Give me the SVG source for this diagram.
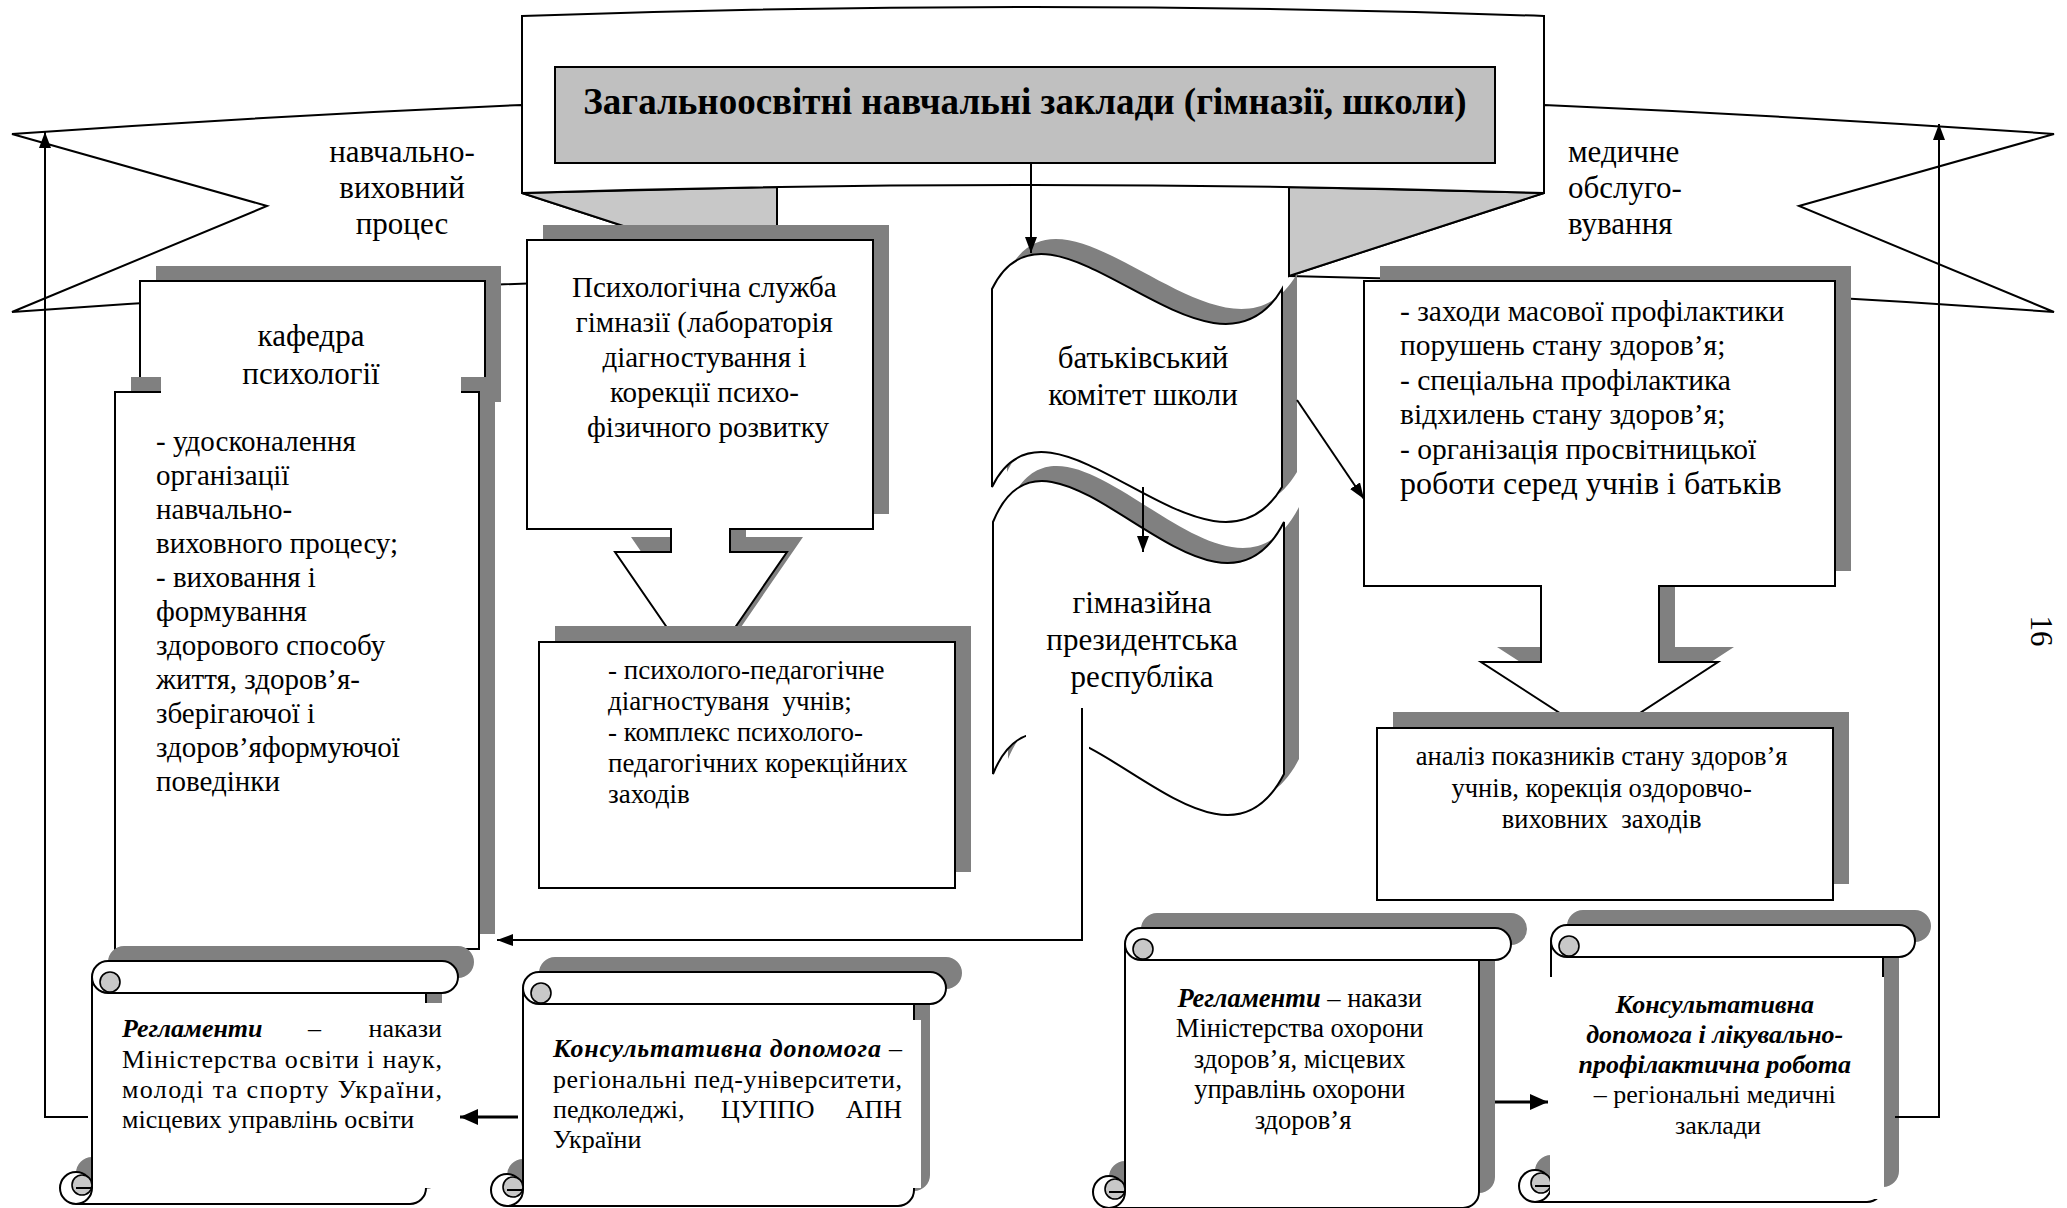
<svg xmlns="http://www.w3.org/2000/svg" width="2067" height="1208" viewBox="0 0 2067 1208">
<style>
.bg{fill:#fff}
.sh{fill:#808080;stroke:none}
.w{fill:#fff;stroke:#000;stroke-width:2}
.ln{fill:none;stroke:#000;stroke-width:2}
.lg{fill:#c8c8c8;stroke:#000;stroke-width:2}
.cv{fill:#c8c8c8;stroke:#000;stroke-width:1.6}
.t{font-family:'Liberation Serif','Times New Roman',serif;fill:#000}
.c{text-anchor:middle}
.e{text-anchor:end}
.bi{font-weight:bold;font-style:italic}
.ov{fill:#fff;stroke:none}
.cn{fill:none;stroke:#000;stroke-width:2}
.cb{fill:none;stroke:#000;stroke-width:3}
</style>
<defs>
<marker id="ah" markerWidth="16" markerHeight="12" refX="16" refY="6" orient="auto" markerUnits="userSpaceOnUse"><path d="M0,0 L16,6 L0,12 z" fill="#000"/></marker>
<marker id="ahb" markerWidth="18" markerHeight="16" refX="18" refY="8" orient="auto" markerUnits="userSpaceOnUse"><path d="M0,0 L18,8 L0,16 z" fill="#000"/></marker>
</defs>
<rect class="bg" x="0" y="0" width="2067" height="1208"/>

<g id="banner">
<path class="w" d="M522,105 Q270,116 12,134 L267,206 L12,312 Q400,284 777,276 L522,193 Z"/>
<path class="lg" d="M522,193 L777,276 L777,187 Z"/>
<path class="w" d="M1544,105 Q1796,116 2054,134 L1799,206 L2054,312 Q1666,284 1289,276 L1544,193 Z"/>
<path class="lg" d="M1544,193 L1289,276 L1289,187 Z"/>
<path class="w" d="M522,16 Q1033,-2 1544,16 L1544,193 Q1033,177 522,193 Z"/>
<rect x="555" y="67" width="940" height="96" fill="#c0c0c0" stroke="#000" stroke-width="2"/>
<text class="t c" x="1025" y="114" font-size="37" font-weight="bold">Загальноосвітні навчальні заклади (гімназії, школи)</text>
<text class="t c" font-size="31"><tspan x="402" y="162">навчально-</tspan><tspan x="402" y="198">виховний</tspan><tspan x="402" y="234">процес</tspan></text>
<text class="t" font-size="31"><tspan x="1568" y="162">медичне</tspan><tspan x="1568" y="198">обслуго-</tspan><tspan x="1568" y="234">вування</tspan></text>
</g>

<g id="kafedra">
<rect class="sh" x="156" y="266" width="345" height="136"/>
<rect class="w" x="140" y="281" width="345" height="136"/>
<rect class="sh" x="131" y="377" width="364" height="557"/>
<rect class="w" x="115" y="392" width="364" height="557"/>
<rect class="ov" x="161" y="296" width="300" height="104"/>
<text class="t c" font-size="31"><tspan x="311" y="346">кафедра</tspan><tspan x="311" y="384">психології</tspan></text>
<text class="t" font-size="29">
<tspan x="156" y="451">- удосконалення</tspan>
<tspan x="156" y="485">організації</tspan>
<tspan x="156" y="519">навчально-</tspan>
<tspan x="156" y="553">виховного процесу;</tspan>
<tspan x="156" y="587">- виховання і</tspan>
<tspan x="156" y="621">формування</tspan>
<tspan x="156" y="655">здорового способу</tspan>
<tspan x="156" y="689">життя, здоров’я-</tspan>
<tspan x="156" y="723">зберігаючої і</tspan>
<tspan x="156" y="757">здоров’яформуючої</tspan>
<tspan x="156" y="791">поведінки</tspan>
</text>
</g>

<g id="psych-service">
<path class="sh" transform="translate(16,-15)" d="M527,240 H873 V529 H730 V552 H787 L701,677 L615,552 H671 V529 H527 Z"/>
<path class="w" d="M527,240 H873 V529 H730 V552 H787 L701,677 L615,552 H671 V529 H527 Z"/>
<text class="t c" font-size="29">
<tspan x="708" y="297">Психологічна служба</tspan>
<tspan x="708" y="332">гімназії (лабораторія</tspan>
<tspan x="708" y="367">діагностування і</tspan>
<tspan x="708" y="402">корекції психо-</tspan>
<tspan x="708" y="437">фізичного розвитку</tspan>
</text>
</g>

<g id="psych-tasks">
<rect class="sh" x="555" y="626" width="416" height="246"/>
<rect class="w" x="539" y="642" width="416" height="246"/>
<text class="t" font-size="27" style="white-space:pre">
<tspan x="608" y="679">- психолого-педагогічне</tspan>
<tspan x="608" y="710">діагностуваня  учнів;</tspan>
<tspan x="608" y="741">- комплекс психолого-</tspan>
<tspan x="608" y="772">педагогічних корекційних</tspan>
<tspan x="608" y="803">заходів</tspan>
</text>
</g>

<g id="parents-committee">
<path class="sh" transform="translate(15,-15)" d="M992,289 C1050,168 1210,410 1282,289 L1282,487 C1210,608 1050,366 992,487 Z"/>
<path class="w" d="M992,289 C1050,168 1210,410 1282,289 L1282,487 C1210,608 1050,366 992,487 Z"/>
<text class="t c" font-size="31"><tspan x="1143" y="368">батьківський</tspan><tspan x="1143" y="405">комітет школи</tspan></text>
</g>

<g id="president-republic">
<path class="sh" transform="translate(15,-15)" d="M993,522 C1051,380 1211,664 1284,522 L1284,774 C1211,916 1051,632 993,774 Z"/>
<path class="w" d="M993,522 C1051,380 1211,664 1284,522 L1284,774 C1211,916 1051,632 993,774 Z"/>
<rect class="ov" x="1026" y="718" width="63" height="36"/>
<text class="t c" font-size="31"><tspan x="1142" y="613">гімназійна</tspan><tspan x="1142" y="650">президентська</tspan><tspan x="1142" y="687">республіка</tspan></text>
</g>

<g id="medical-prevention">
<path class="sh" transform="translate(16,-15)" d="M1364,281 H1835 V586 H1659 V662 H1718 L1600,739 L1481,662 H1541 V586 H1364 Z"/>
<path class="w" d="M1364,281 H1835 V586 H1659 V662 H1718 L1600,739 L1481,662 H1541 V586 H1364 Z"/>
<text class="t" font-size="29.5">
<tspan x="1400" y="321">- заходи масової профілактики</tspan>
<tspan x="1400" y="355">порушень стану здоров’я;</tspan>
<tspan x="1400" y="390">- спеціальна профілактика</tspan>
<tspan x="1400" y="424">відхилень стану здоров’я;</tspan>
<tspan x="1400" y="459">- організація просвітницької</tspan>
<tspan x="1400" y="494" font-size="32">роботи серед учнів і батьків</tspan>
</text>
</g>

<g id="health-analysis">
<rect class="sh" x="1393" y="712" width="456" height="172"/>
<rect class="w" x="1377" y="728" width="456" height="172"/>
<text class="t c" font-size="26.5" style="white-space:pre">
<tspan x="1605" y="765">аналіз показників стану здоров’я</tspan>
<tspan x="1605" y="797">учнів, корекція оздоровчо-</tspan>
<tspan x="1605" y="828">виховних  заходів</tspan>
</text>
</g>

<g id="scroll-edu-regulations">
<path class="sh" transform="translate(16,-15)" d="M92,977 A16,16 0 0 1 108,961 H442 A16,16 0 0 1 442,993 H426 V1188 A16,16 0 0 1 410,1204 H76 A16,16 0 0 1 76,1172 A16,16 0 0 1 92,1188 Z"/>
<path class="w" d="M92,977 A16,16 0 0 1 108,961 H442 A16,16 0 0 1 442,993 H426 V1188 A16,16 0 0 1 410,1204 H76 A16,16 0 0 1 76,1172 A16,16 0 0 1 92,1188 Z"/>
<circle class="cv" cx="110" cy="982" r="10"/>
<circle class="cv" cx="82" cy="1185" r="10"/>
<path class="ln" d="M442,993 H108 M92,977 A16,16 0 0 0 108,993 M92,1188 A16,16 0 0 1 76,1204 M76,1188 H92"/>
<rect class="ov" x="100" y="1003" width="346" height="185"/>
<text class="t" font-size="26"><tspan class="bi" x="122" y="1037">Регламенти</tspan><tspan x="308" y="1037">–</tspan></text>
<text class="t e" font-size="26" x="442" y="1037">накази</text>
<text class="t" font-size="26" x="122" y="1068" textLength="320" lengthAdjust="spacing">Міністерства освіти і наук,</text>
<text class="t" font-size="26" x="122" y="1098" textLength="320" lengthAdjust="spacing">молоді та спорту України,</text>
<text class="t" font-size="26" x="122" y="1128">місцевих управлінь освіти</text>
</g>

<g id="scroll-edu-consult">
<path class="sh" transform="translate(16,-15)" d="M523,988 A16,16 0 0 1 539,972 H930 A16,16 0 0 1 930,1004 H914 V1190 A16,16 0 0 1 898,1206 H507 A16,16 0 0 1 507,1174 A16,16 0 0 1 523,1190 Z"/>
<path class="w" d="M523,988 A16,16 0 0 1 539,972 H930 A16,16 0 0 1 930,1004 H914 V1190 A16,16 0 0 1 898,1206 H507 A16,16 0 0 1 507,1174 A16,16 0 0 1 523,1190 Z"/>
<circle class="cv" cx="541" cy="993" r="10"/>
<circle class="cv" cx="513" cy="1187" r="10"/>
<path class="ln" d="M930,1004 H539 M523,988 A16,16 0 0 0 539,1004 M523,1190 A16,16 0 0 1 507,1206 M507,1190 H523"/>
<rect class="ov" x="531" y="1020" width="390" height="168"/>
<text class="t" font-size="26" x="553" y="1057" textLength="349" lengthAdjust="spacing"><tspan class="bi">Консультативна допомога</tspan> –</text>
<text class="t" font-size="26" x="553" y="1088" textLength="349" lengthAdjust="spacing">регіональні пед-університети,</text>
<text class="t" font-size="26"><tspan x="553" y="1118">педколеджі,</tspan><tspan x="721" y="1118">ЦУППО</tspan></text>
<text class="t e" font-size="26" x="902" y="1118">АПН</text>
<text class="t" font-size="26" x="553" y="1148">України</text>
</g>

<g id="scroll-health-regulations">
<path class="sh" transform="translate(16,-15)" d="M1125,944 A16,16 0 0 1 1141,928 H1495 A16,16 0 0 1 1495,960 H1479 V1192 A16,16 0 0 1 1463,1208 H1109 A16,16 0 0 1 1109,1176 A16,16 0 0 1 1125,1192 Z"/>
<path class="w" d="M1125,944 A16,16 0 0 1 1141,928 H1495 A16,16 0 0 1 1495,960 H1479 V1192 A16,16 0 0 1 1463,1208 H1109 A16,16 0 0 1 1109,1176 A16,16 0 0 1 1125,1192 Z"/>
<circle class="cv" cx="1143" cy="949" r="10"/>
<circle class="cv" cx="1115" cy="1189" r="10"/>
<path class="ln" d="M1495,960 H1141 M1125,944 A16,16 0 0 0 1141,960 M1125,1192 A16,16 0 0 1 1109,1208 M1109,1192 H1125"/>
<text class="t c" font-size="26.5">
<tspan x="1303" y="1007"><tspan class="bi">Регламенти</tspan> – накази</tspan>
<tspan x="1303" y="1037">Міністерства охорони</tspan>
<tspan x="1303" y="1068">здоров’я, місцевих</tspan>
<tspan x="1303" y="1098">управлінь охорони</tspan>
<tspan x="1303" y="1129">здоров’я</tspan>
</text>
</g>

<g id="scroll-health-consult">
<path class="sh" transform="translate(16,-15)" d="M1551,941 A16,16 0 0 1 1567,925 H1899 A16,16 0 0 1 1899,957 H1883 V1186 A16,16 0 0 1 1867,1202 H1535 A16,16 0 0 1 1535,1170 A16,16 0 0 1 1551,1186 Z"/>
<path class="w" d="M1551,941 A16,16 0 0 1 1567,925 H1899 A16,16 0 0 1 1899,957 H1883 V1186 A16,16 0 0 1 1867,1202 H1535 A16,16 0 0 1 1535,1170 A16,16 0 0 1 1551,1186 Z"/>
<circle class="cv" cx="1569" cy="946" r="10"/>
<circle class="cv" cx="1541" cy="1183" r="10"/>
<path class="ln" d="M1899,957 H1567 M1551,941 A16,16 0 0 0 1567,957 M1551,1186 A16,16 0 0 1 1535,1202 M1535,1186 H1551"/>
<rect class="ov" x="1550" y="977" width="334" height="222"/>
<text class="t c" font-size="26">
<tspan class="bi" x="1718" y="1013">Консультативна</tspan>
<tspan class="bi" x="1718" y="1043">допомога і лікувально-</tspan>
<tspan class="bi" x="1718" y="1073">профілактична робота</tspan>
<tspan x="1718" y="1103">– регіональні медичні</tspan>
<tspan x="1718" y="1134">заклади</tspan>
</text>
</g>

<g id="connectors">
<line class="cn" x1="1031" y1="163" x2="1031" y2="253" marker-end="url(#ah)"/>
<line class="cn" x1="1143" y1="487" x2="1143" y2="552" marker-end="url(#ah)"/>
<line class="cn" x1="1297" y1="400" x2="1364" y2="499" marker-end="url(#ah)"/>
<polyline class="cn" points="1082,708 1082,940 497,940" marker-end="url(#ah)"/>
<polyline class="cn" points="88,1117 45,1117 45,132" marker-end="url(#ah)"/>
<polyline class="cn" points="1895,1117 1939,1117 1939,124" marker-end="url(#ah)"/>
<line class="cb" x1="518" y1="1117" x2="460" y2="1117" marker-end="url(#ahb)"/>
<line class="cb" x1="1495" y1="1102" x2="1548" y2="1102" marker-end="url(#ahb)"/>
</g>

<text class="t c" font-size="31" transform="translate(2031,631) rotate(90)">16</text>
</svg>
